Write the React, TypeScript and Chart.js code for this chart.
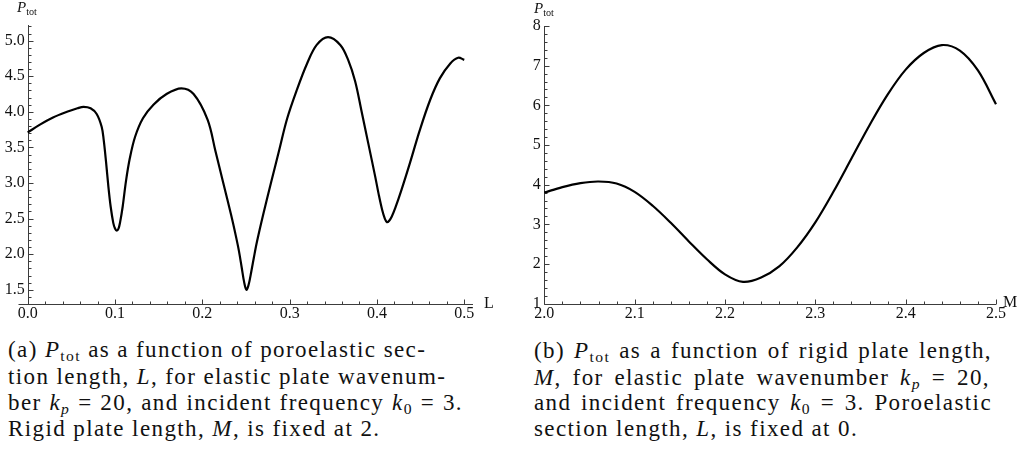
import React, { useEffect, useRef } from "react";
import { Chart, registerables } from "chart.js";

Chart.register(...registerables);

// ---------- data: panel (a) P_tot vs L ----------
const L_VALUES = [
  0, 0.014, 0.029, 0.045, 0.057, 0.064, 0.072, 0.079, 0.0847, 0.087, 0.0897, 0.0924, 0.095, 0.098, 0.1,
  0.102, 0.104, 0.1057, 0.1088, 0.1126, 0.117, 0.123, 0.132, 0.144, 0.159, 0.176, 0.19, 0.206, 0.215,
  0.224, 0.233, 0.2385, 0.242, 0.245, 0.248, 0.2505, 0.253, 0.256, 0.259, 0.2625, 0.27, 0.279, 0.288,
  0.297, 0.308, 0.32, 0.331, 0.344, 0.358, 0.367, 0.375, 0.382, 0.39, 0.398, 0.402, 0.406, 0.409,
  0.4115, 0.414, 0.417, 0.421, 0.428, 0.438, 0.449, 0.461, 0.472, 0.484, 0.493, 0.5,
];
const P_VS_L = [
  3.71, 3.82, 3.92, 4.0, 4.05, 4.07, 4.05, 3.97, 3.79, 3.61, 3.3, 2.95, 2.67, 2.44, 2.36,
  2.33, 2.36, 2.44, 2.67, 3.03, 3.35, 3.65, 3.91, 4.1, 4.25, 4.33, 4.25, 3.89, 3.45,
  3.0, 2.55, 2.25, 2.04, 1.82, 1.6, 1.5, 1.57, 1.75, 1.95, 2.17, 2.57, 3.02, 3.46,
  3.9, 4.3, 4.68, 4.94, 5.05, 4.94, 4.73, 4.43, 4.03, 3.56, 3.09, 2.84, 2.62, 2.5,
  2.45, 2.47, 2.53, 2.65, 2.9, 3.29, 3.74, 4.17, 4.47, 4.68, 4.76, 4.73,
];
const L_TICKS = [0, 0.1, 0.2, 0.3, 0.4, 0.5];
const L_TICK_LABELS = ["0.0", "0.1", "0.2", "0.3", "0.4", "0.5"];
const PL_TICKS = [1.5, 2.0, 2.5, 3.0, 3.5, 4.0, 4.5, 5.0];
const PL_TICK_LABELS = ["1.5", "2.0", "2.5", "3.0", "3.5", "4.0", "4.5", "5.0"];

// ---------- data: panel (b) P_tot vs M ----------
const M_VALUES = [
  2.0, 2.02, 2.04, 2.06, 2.08, 2.1, 2.12, 2.14, 2.16, 2.18, 2.2, 2.22, 2.24, 2.26,
  2.28, 2.3, 2.32, 2.34, 2.36, 2.38, 2.4, 2.42, 2.44, 2.46, 2.48, 2.5,
];
const P_VS_M = [
  3.8, 3.94, 4.04, 4.08, 4.03, 3.82, 3.47, 3.04, 2.57, 2.12, 1.74, 1.55, 1.66, 1.94,
  2.42, 3.05, 3.82, 4.66, 5.5, 6.27, 6.9, 7.32, 7.52, 7.38, 6.88, 6.03,
];
const M_TICKS = [2.0, 2.1, 2.2, 2.3, 2.4, 2.5];
const M_TICK_LABELS = ["2.0", "2.1", "2.2", "2.3", "2.4", "2.5"];
const PM_TICKS = [1, 2, 3, 4, 5, 6, 7, 8];
const PM_TICK_LABELS = ["1", "2", "3", "4", "5", "6", "7", "8"];

const SERIF = "'Liberation Serif', 'Times New Roman', serif";
const AXIS_COLOR = "#3c3c3c";

type PanelProps = {
  xs: number[];
  ys: number[];
  xTicks: number[];
  xLabels: string[];
  yTicks: number[];
  yLabels: string[];
  xMin: number;
  xMax: number;
  yMin: number;
  yMax: number;
  xMinor: number;
  yMinor: number;
  width: number;
  height: number;
  padTop: number;
  padRight: number;
  yAxisWidth: number;
  xAxisHeight: number;
  xAxisLeftExt: number;
  yLabelPad: number;
  left: number;
};

function minorValues(min: number, max: number, step: number, majors: number[]) {
  const out: number[] = [];
  const n0 = Math.ceil(min / step - 1e-9);
  const n1 = Math.floor(max / step + 1e-9);
  for (let n = n0; n <= n1; n++) {
    const v = n * step;
    if (!majors.some((m) => Math.abs(m - v) < 1e-9)) out.push(v);
  }
  return out;
}

function Panel(p: PanelProps) {
  const ref = useRef<HTMLCanvasElement>(null);
  useEffect(() => {
    if (!ref.current) return;
    const axesPlugin = {
      id: "mathAxes",
      beforeDatasetsDraw(chart: any) {
        const ctx = chart.ctx;
        const xs = chart.scales.x;
        const ys = chart.scales.y;
        const area = chart.chartArea;
        const ax = Math.round(xs.getPixelForValue(p.xMin)) + 0.5;
        const ay = Math.round(area.bottom) + 0.5;
        ctx.save();
        ctx.strokeStyle = AXIS_COLOR;
        ctx.lineWidth = 1;
        ctx.beginPath();
        ctx.moveTo(ax, Math.round(area.top));
        ctx.lineTo(ax, ay);
        ctx.moveTo(ax - p.xAxisLeftExt, ay);
        ctx.lineTo(Math.round(area.right), ay);
        p.yTicks.forEach((v) => {
          const y = Math.round(ys.getPixelForValue(v)) + 0.5;
          ctx.moveTo(ax, y);
          ctx.lineTo(ax + 5, y);
        });
        minorValues(p.yMin, p.yMax, p.yMinor, p.yTicks).forEach((v) => {
          const y = Math.round(ys.getPixelForValue(v)) + 0.5;
          ctx.moveTo(ax, y);
          ctx.lineTo(ax + 3, y);
        });
        p.xTicks.forEach((v) => {
          const x = Math.round(xs.getPixelForValue(v)) + 0.5;
          ctx.moveTo(x, ay);
          ctx.lineTo(x, ay - 5);
        });
        minorValues(p.xMin, p.xMax, p.xMinor, p.xTicks).forEach((v) => {
          const x = Math.round(xs.getPixelForValue(v)) + 0.5;
          ctx.moveTo(x, ay);
          ctx.lineTo(x, ay - 3);
        });
        ctx.stroke();
        ctx.restore();
      },
    };

    const labelFor = (ticks: number[], labels: string[]) => (value: any) => {
      const i = ticks.findIndex((t) => Math.abs(t - Number(value)) < 1e-9);
      return i >= 0 ? labels[i] : "";
    };

    const chart = new Chart(ref.current, {
      type: "line",
      data: {
        datasets: [
          {
            data: p.xs.map((x, i) => ({ x, y: p.ys[i] })),
            borderColor: "#000",
            borderWidth: 2.2,
            pointRadius: 0,
            tension: 0.35,
            fill: false,
            clip: 6,
          } as any,
        ],
      },
      options: {
        animation: false,
        responsive: false,
        maintainAspectRatio: false,
        layout: { padding: { top: p.padTop, right: p.padRight, left: 0, bottom: 0 } },
        plugins: { legend: { display: false }, tooltip: { enabled: false } },
        scales: {
          x: {
            type: "linear",
            min: p.xMin,
            max: p.xMax,
            grid: { display: false, drawTicks: false },
            border: { display: false },
            afterFit: (s: any) => {
              s.height = p.xAxisHeight;
            },
            afterBuildTicks: (s: any) => {
              s.ticks = p.xTicks.map((v) => ({ value: v }));
            },
            ticks: {
              callback: labelFor(p.xTicks, p.xLabels),
              font: { family: SERIF, size: 16 },
              color: "#111",
              padding: 0,
              maxRotation: 0,
              autoSkip: false,
            },
          },
          y: {
            type: "linear",
            min: p.yMin,
            max: p.yMax,
            grid: { display: false, drawTicks: false },
            border: { display: false },
            afterFit: (s: any) => {
              s.width = p.yAxisWidth;
            },
            afterBuildTicks: (s: any) => {
              s.ticks = p.yTicks.map((v) => ({ value: v }));
            },
            ticks: {
              callback: labelFor(p.yTicks, p.yLabels),
              font: { family: SERIF, size: 16 },
              color: "#111",
              padding: p.yLabelPad,
              autoSkip: false,
            },
          },
        },
      } as any,
      plugins: [axesPlugin],
    });
    return () => chart.destroy();
  }, []);
  return (
    <canvas
      ref={ref}
      width={p.width}
      height={p.height}
      style={{ position: "absolute", left: p.left, top: 0, width: p.width, height: p.height }}
    />
  );
}

const sub: React.CSSProperties = { fontSize: "0.68em", verticalAlign: "-0.25em", lineHeight: 0 };

function Ptot() {
  return (
    <span>
      <i>P</i>
      <span style={sub}>tot</span>
    </span>
  );
}
const Kp = () => (
  <span>
    <i>k</i>
    <span style={sub}>
      <i>p</i>
    </span>
  </span>
);
const K0 = () => (
  <span>
    <i>k</i>
    <span style={sub}>0</span>
  </span>
);

const captionLine = (top: number, left: number, width: number | null): React.CSSProperties => ({
  position: "absolute",
  left,
  top,
  width: width ?? undefined,
  whiteSpace: "nowrap",
  textAlign: width ? "justify" : "left",
  textAlignLast: width ? "justify" : "left",
  fontFamily: SERIF,
  fontSize: 23,
  lineHeight: "26px",
  letterSpacing: "1.4px",
  color: "#111",
});

export default function App() {
  const capTops = [337, 364, 390, 416];
  return (
    <div
      style={{
        position: "absolute",
        left: 0,
        top: 0,
        width: 1023,
        height: 451,
        background: "#fff",
        overflow: "hidden",
      }}
    >
      <Panel
        xs={L_VALUES}
        ys={P_VS_L}
        xTicks={L_TICKS}
        xLabels={L_TICK_LABELS}
        yTicks={PL_TICKS}
        yLabels={PL_TICK_LABELS}
        xMin={0}
        xMax={0.51}
        yMin={1.3}
        yMax={5.22}
        xMinor={0.02}
        yMinor={0.1}
        width={505}
        height={325}
        padTop={25}
        padRight={32}
        yAxisWidth={27.7}
        xAxisHeight={21}
        xAxisLeftExt={10}
        yLabelPad={3}
        left={0}
      />
      <Panel
        xs={M_VALUES}
        ys={P_VS_M}
        xTicks={M_TICKS}
        xLabels={M_TICK_LABELS}
        yTicks={PM_TICKS}
        yLabels={PM_TICK_LABELS}
        xMin={2.0}
        xMax={2.5}
        yMin={1}
        yMax={8}
        xMinor={0.02}
        yMinor={0.2}
        width={518}
        height={325}
        padTop={26}
        padRight={27}
        yAxisWidth={39.3}
        xAxisHeight={21.3}
        xAxisLeftExt={0}
        yLabelPad={3.5}
        left={505}
      />
      {/* axis labels */}
      <div style={{ position: "absolute", left: 17, top: -2, fontFamily: SERIF, fontSize: 15, lineHeight: "18px", color: "#111" }}>
        <Ptot />
      </div>
      <div style={{ position: "absolute", left: 534, top: -1, fontFamily: SERIF, fontSize: 15, lineHeight: "18px", color: "#111" }}>
        <Ptot />
      </div>
      <div style={{ position: "absolute", left: 484, top: 294, fontFamily: SERIF, fontSize: 16, lineHeight: "18px", color: "#111" }}>
        L
      </div>
      <div style={{ position: "absolute", left: 1003, top: 293, fontFamily: SERIF, fontSize: 16, lineHeight: "18px", color: "#111" }}>
        M
      </div>
      {/* caption (a) */}
      <div style={captionLine(capTops[0], 8, 405)}>
        (a) <Ptot /> as a function of poroelastic sec-
      </div>
      <div style={captionLine(capTops[1], 8, 407)}>
        tion length, <i>L</i>, for elastic plate wavenum-
      </div>
      <div style={captionLine(capTops[2], 8, 455)}>
        ber <Kp /> = 20, and incident frequency <K0 /> = 3.
      </div>
      <div style={captionLine(capTops[3], 8, null)}>
        Rigid plate length, <i>M</i>, is fixed at 2.
      </div>
      {/* caption (b) */}
      <div style={captionLine(capTops[0] + 1, 534, 458)}>
        (b) <Ptot /> as a function of rigid plate length,
      </div>
      <div style={captionLine(capTops[1] + 1, 534, 456)}>
        <i>M</i>, for elastic plate wavenumber <Kp /> = 20,
      </div>
      <div style={captionLine(capTops[2], 534, 458)}>
        and incident frequency <K0 /> = 3. Poroelastic
      </div>
      <div style={captionLine(capTops[3], 534, null)}>
        section length, <i>L</i>, is fixed at 0.
      </div>
    </div>
  );
}
